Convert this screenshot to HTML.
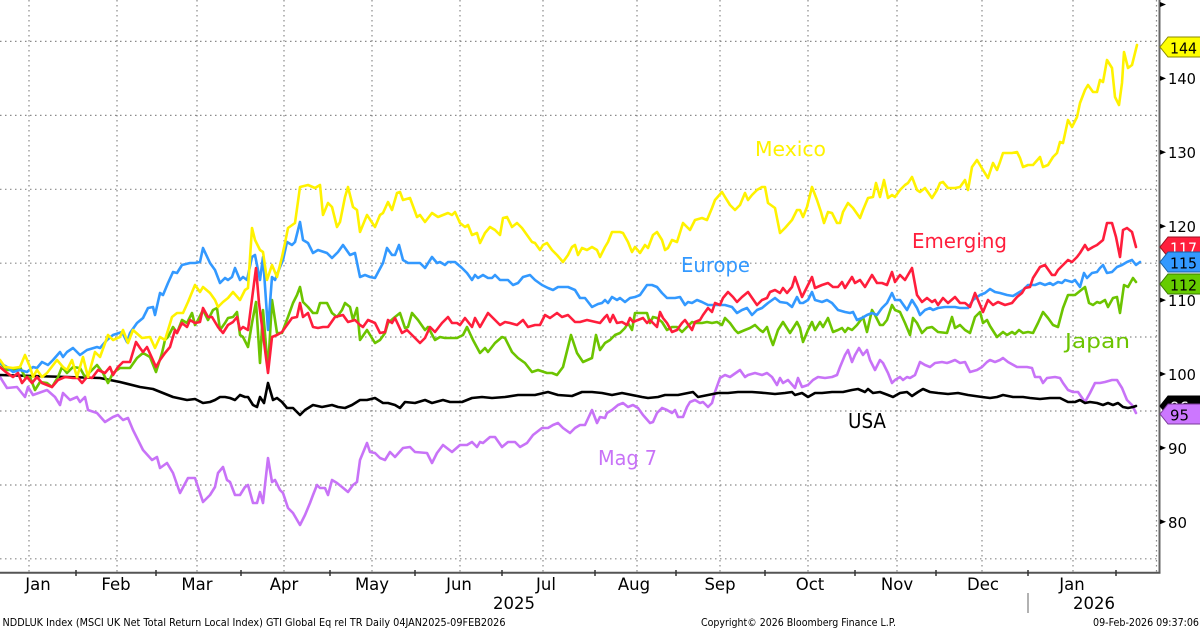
<!DOCTYPE html>
<html>
<head>
<meta charset="utf-8">
<style>
html,body{margin:0;padding:0;background:#fff;}
svg{display:block;}
text{font-family:"DejaVu Sans","Liberation Sans",sans-serif;}
</style>
</head>
<body>
<svg width="1200" height="629" viewBox="0 0 1200 629" xmlns="http://www.w3.org/2000/svg">
<rect x="0" y="0" width="1200" height="629" fill="#ffffff"/>

<!-- horizontal gridlines -->
<g stroke="#8a8a8a" stroke-width="1.2" stroke-dasharray="1.5 3.5" fill="none">
<line x1="0" y1="41.4" x2="1158" y2="41.4"/>
<line x1="0" y1="115.4" x2="1158" y2="115.4"/>
<line x1="0" y1="189.3" x2="1158" y2="189.3"/>
<line x1="0" y1="263.2" x2="1158" y2="263.2"/>
<line x1="0" y1="337" x2="1158" y2="337"/>
<line x1="0" y1="411" x2="1158" y2="411"/>
<line x1="0" y1="485" x2="1158" y2="485"/>
<line x1="0" y1="558.8" x2="1158" y2="558.8"/>
</g>
<!-- vertical gridlines -->
<g stroke="#8a8a8a" stroke-width="1.2" stroke-dasharray="1.5 3.5" fill="none">
<line x1="29" y1="0" x2="29" y2="572"/>
<line x1="117" y1="0" x2="117" y2="572"/>
<line x1="197" y1="0" x2="197" y2="572"/>
<line x1="284" y1="0" x2="284" y2="572"/>
<line x1="372" y1="0" x2="372" y2="572"/>
<line x1="460" y1="0" x2="460" y2="572"/>
<line x1="543" y1="0" x2="543" y2="572"/>
<line x1="637" y1="0" x2="637" y2="572"/>
<line x1="720" y1="0" x2="720" y2="572"/>
<line x1="808" y1="0" x2="808" y2="572"/>
<line x1="897" y1="0" x2="897" y2="572"/>
<line x1="982" y1="0" x2="982" y2="572"/>
<line x1="1073" y1="0" x2="1073" y2="572"/>
<line x1="1156.5" y1="0" x2="1156.5" y2="572"/>
</g>

<!-- axes -->
<line x1="1159.5" y1="0" x2="1159.5" y2="573.5" stroke="#666" stroke-width="2"/>
<line x1="0" y1="572.7" x2="1160.5" y2="572.7" stroke="#555" stroke-width="2"/>
<g stroke="#333" stroke-width="1.5">
<line x1="76" y1="570" x2="76" y2="576"/>
<line x1="156" y1="570" x2="156" y2="576"/>
<line x1="241" y1="570" x2="241" y2="576"/>
<line x1="330" y1="570" x2="330" y2="576"/>
<line x1="415" y1="570" x2="415" y2="576"/>
<line x1="502" y1="570" x2="502" y2="576"/>
<line x1="595" y1="570" x2="595" y2="576"/>
<line x1="676" y1="570" x2="676" y2="576"/>
<line x1="765" y1="570" x2="765" y2="576"/>
<line x1="855" y1="570" x2="855" y2="576"/>
<line x1="936" y1="570" x2="936" y2="576"/>
<line x1="1028" y1="570" x2="1028" y2="576"/>
<line x1="1116" y1="570" x2="1116" y2="576"/>
</g>

<!-- right axis ticks -->
<g fill="#000">
<polygon points="1160,2 1166,4.5 1160,7"/>
<polygon points="1160,75.9 1166,78.4 1160,80.9"/>
<polygon points="1160,149.8 1166,152.3 1160,154.8"/>
<polygon points="1160,223.7 1166,226.2 1160,228.7"/>
<polygon points="1160,297.6 1166,300.1 1160,302.6"/>
<polygon points="1160,371.5 1166,374 1160,376.5"/>
<polygon points="1160,445.4 1166,447.9 1160,450.4"/>
<polygon points="1160,519.3 1166,521.8 1160,524.3"/>
</g>
<g font-size="15" fill="#000">
<text x="1168" y="84" textLength="28" lengthAdjust="spacingAndGlyphs">140</text>
<text x="1168" y="158" textLength="28" lengthAdjust="spacingAndGlyphs">130</text>
<text x="1168" y="232" textLength="28" lengthAdjust="spacingAndGlyphs">120</text>
<text x="1168" y="306" textLength="28" lengthAdjust="spacingAndGlyphs">110</text>
<text x="1168" y="380" textLength="28" lengthAdjust="spacingAndGlyphs">100</text>
<text x="1168" y="454" textLength="19" lengthAdjust="spacingAndGlyphs">90</text>
<text x="1168" y="528" textLength="19" lengthAdjust="spacingAndGlyphs">80</text>
</g>

<!-- series -->
<g fill="none" stroke-width="2.6" stroke-linejoin="round" stroke-linecap="round">
<polyline stroke="#C873F7" points="0,377 7,388 17,387 25,397 28,387 33,395 47,390 55,397 60,405 63,393 70,400 77,397 80,402 85,397 88,410 97,413 105,422 113,417 118,415 123,420 128,418 133,430 143,450 152,460 157,457 160,468 167,463 173,473 180,493 188,478 195,478 203,502 210,495 215,487 218,473 223,467 227,480 230,482 235,495 240,495 245,487 248,485 253,503 257,503 260,492 263,503 268,458 272,482 275,480 280,490 283,493 288,508 293,513 300,525 305,515 310,503 313,495 317,485 320,488 325,488 328,495 332,480 337,483 342,487 348,492 353,485 357,482 360,460 367,443 370,452 375,453 380,458 385,460 390,452 395,457 403,448 410,447 415,452 427,453 432,463 437,453 443,445 452,452 460,445 467,445 472,442 477,447 480,442 483,443 490,437 495,437 502,447 508,442 515,442 520,447 527,443 533,435 542,428 548,428 553,425 558,423 563,428 570,433 575,428 580,425 585,425 592,410 597,423 600,417 605,418 607,413 612,410 618,405 623,403 628,407 633,405 638,408 643,415 650,423 653,422 657,413 662,408 667,410 672,413 675,410 678,417 683,417 687,407 690,402 695,400 700,403 703,402 708,407 712,403 715,392 720,378 725,375 730,377 740,370 745,377 748,375 755,373 762,375 767,373 772,377 777,385 780,378 783,383 788,380 795,388 798,378 802,387 808,385 813,380 818,377 825,378 832,377 837,375 840,367 845,355 848,350 852,362 855,355 859,348 863,355 867,350 870,360 875,370 880,360 883,363 888,373 892,383 895,380 900,377 903,380 907,377 910,378 915,375 920,362 925,365 930,367 935,363 942,362 947,363 950,362 955,360 960,363 965,362 970,372 977,370 982,367 987,362 990,360 995,362 1000,360 1003,358 1008,362 1017,367 1027,367 1032,368 1035,377 1040,377 1043,383 1047,378 1055,377 1060,378 1063,383 1068,390 1073,392 1078,392 1085,402 1090,393 1095,383 1100,383 1105,382 1112,380 1117,380 1122,388 1127,400 1132,405 1136,413"/>
<polyline stroke="#000000" points="0,375 67,377 100,378 120,382 140,387 153,389 163,393 173,397 187,400 195,399 203,403 210,402 215,400 220,397 225,397 230,398 235,400 240,395 245,397 248,397 253,405 257,407 260,397 264,403 268,383 273,400 277,398 282,402 287,408 293,408 300,415 305,410 313,405 322,407 332,405 338,407 345,408 352,405 360,400 367,400 375,398 383,403 388,403 395,405 400,408 405,402 415,403 425,400 432,403 443,400 450,402 462,402 472,398 482,397 492,398 505,397 518,395 535,395 548,392 558,395 572,396 582,392 592,392 602,393 612,395 622,393 632,395 642,397 648,398 658,397 665,395 678,395 688,393 693,392 698,397 708,395 718,393 728,393 738,392 752,392 765,393 775,394 785,393 792,392 795,395 802,393 808,397 815,393 822,393 832,392 843,392 852,390 858,389 865,392 868,389 873,393 880,392 888,395 893,397 900,393 907,392 912,396 918,392 923,389 930,392 938,393 948,394 958,393 968,395 982,397 990,398 997,397 1003,395 1013,397 1023,397 1030,398 1040,399 1050,398 1060,398 1068,402 1075,402 1080,400 1085,403 1090,402 1097,403 1103,405 1108,403 1113,405 1118,403 1123,407 1128,408 1133,407 1136,406"/>
<polyline stroke="#6CC400" points="0,363 7,370 13,370 20,367 25,377 30,377 35,390 40,382 47,383 52,387 58,377 62,367 67,373 73,367 80,368 85,377 92,370 97,365 103,373 108,383 113,373 120,368 130,368 137,358 143,353 150,357 156,372 162,353 165,340 168,337 173,327 177,333 182,320 187,323 192,313 195,325 198,320 203,310 208,320 213,310 217,308 220,330 225,323 228,318 233,317 237,312 240,335 243,337 248,347 252,323 256,302 260,363 263,310 268,370 272,300 277,333 282,333 288,317 293,303 297,295 300,287 303,302 308,307 313,313 317,313 320,303 327,303 332,313 337,317 342,310 345,303 350,307 353,320 357,308 360,340 367,330 375,343 380,340 385,333 388,323 395,317 400,313 405,328 408,327 412,313 418,320 425,330 428,327 435,340 440,337 445,338 457,338 463,335 467,327 473,340 480,353 485,348 488,352 495,343 502,337 505,338 512,352 518,358 525,363 532,372 538,370 547,373 552,373 557,375 563,367 571,335 577,353 583,362 592,358 596,335 600,350 605,343 610,340 615,335 620,333 625,328 628,323 632,330 635,313 642,313 647,313 650,323 653,317 657,318 662,322 667,330 672,327 677,327 682,332 687,327 692,322 695,323 702,323 707,322 712,323 717,322 722,325 725,318 730,323 735,330 738,333 745,330 750,328 755,325 760,330 763,332 767,327 770,337 773,345 778,330 783,322 790,333 797,322 800,328 803,342 808,330 812,322 815,330 820,322 823,327 828,318 833,332 838,330 842,328 845,332 848,328 852,330 857,325 863,317 867,332 872,310 875,315 880,325 883,325 887,320 892,305 895,310 900,312 905,323 910,335 913,318 917,323 922,333 927,328 932,327 938,332 947,333 952,317 955,328 960,325 965,330 970,333 975,317 980,312 983,323 987,320 990,326 997,337 1003,332 1007,335 1012,332 1015,334 1019,330 1023,333 1028,332 1033,333 1038,323 1043,312 1048,318 1053,325 1058,327 1063,308 1068,295 1075,295 1085,287 1089,303 1093,305 1097,302 1100,303 1105,300 1108,307 1113,298 1117,297 1120,313 1124,285 1128,287 1133,278 1136,282"/>
<polyline stroke="#3399FF" points="0,363 7,367 13,372 20,370 27,372 33,367 37,368 42,362 48,365 53,360 60,352 63,357 67,352 73,348 80,355 87,350 97,347 100,348 107,340 113,335 122,332 127,342 130,333 137,323 143,318 148,308 153,307 155,315 160,293 163,295 168,283 173,272 177,273 182,265 190,263 195,263 200,262 203,248 210,263 215,270 220,283 225,278 228,280 232,277 235,268 240,280 243,277 247,280 252,257 255,255 260,280 263,257 268,330 272,277 275,280 280,267 283,260 287,242 292,245 295,242 300,222 303,240 308,243 313,253 318,250 327,253 332,258 338,252 343,245 350,255 355,253 360,277 365,275 370,277 375,278 383,263 387,248 392,255 395,255 399,245 403,260 408,263 420,263 425,268 432,257 437,263 440,262 445,265 448,262 455,262 462,268 467,273 472,280 475,275 478,278 483,275 488,278 492,278 495,275 500,280 508,280 513,285 518,283 523,277 530,275 535,280 542,285 548,288 553,290 558,287 568,287 575,290 580,298 585,298 592,307 598,304 602,303 605,300 608,303 612,297 617,300 620,298 625,302 630,298 635,297 640,295 647,285 652,285 657,287 662,293 667,298 675,298 680,297 685,305 688,302 692,303 697,300 702,302 708,305 713,305 725,305 732,307 737,313 742,310 747,308 752,315 757,310 762,308 768,303 775,298 780,302 787,303 792,307 797,297 800,303 803,303 808,300 812,292 815,300 822,302 827,300 832,303 838,310 845,312 850,313 853,312 857,320 862,318 867,315 872,313 877,315 882,308 887,303 892,293 895,300 900,300 907,310 912,300 917,308 920,315 925,310 930,308 933,310 938,308 945,307 955,307 960,308 968,308 973,300 980,295 985,293 990,289 995,292 1000,293 1007,295 1013,296 1018,293 1023,290 1028,285 1035,285 1040,283 1045,285 1050,283 1053,285 1058,282 1062,283 1065,280 1072,282 1075,280 1080,287 1084,273 1087,278 1092,273 1097,272 1100,268 1103,265 1107,273 1112,272 1117,267 1122,265 1127,262 1132,260 1136,265 1140,262"/>
<polyline stroke="#FF1E3C" points="0,367 7,373 13,377 18,373 22,383 27,377 32,383 37,377 42,383 52,387 58,380 65,377 73,378 78,378 82,383 87,377 92,378 98,370 105,373 110,367 113,375 118,367 123,362 130,362 136,342 140,348 143,352 147,347 152,358 156,367 160,360 165,353 170,347 175,330 177,333 182,323 187,327 190,320 195,323 200,322 203,308 208,317 212,317 218,327 223,333 228,325 233,322 237,317 240,330 243,327 248,330 256,268 259,303 268,373 272,337 277,335 282,332 287,325 292,318 297,317 300,303 303,317 308,313 313,327 318,328 323,327 328,327 335,317 343,315 348,322 355,320 360,325 363,327 368,320 375,323 380,333 385,332 388,320 392,323 395,318 402,333 407,330 412,335 420,343 425,338 430,327 435,332 442,323 448,317 452,323 457,323 460,325 465,318 472,327 475,318 480,327 488,313 495,320 500,325 505,322 510,323 517,325 523,320 528,327 535,325 540,325 545,315 550,318 557,313 562,317 568,315 575,322 580,322 587,320 600,323 605,317 607,315 610,322 613,315 617,323 622,322 627,325 630,318 633,322 638,320 643,318 647,323 650,320 657,327 660,312 663,318 667,323 672,332 677,330 682,323 685,320 692,330 695,322 700,320 703,315 708,308 712,312 715,303 720,305 723,298 728,292 733,297 737,302 742,297 748,292 757,305 762,300 767,298 770,292 775,290 780,293 783,288 787,293 792,287 795,277 802,297 807,287 812,277 815,288 822,285 828,283 833,287 838,287 842,282 845,288 852,277 855,283 860,280 865,287 872,275 877,283 882,283 887,285 892,272 895,282 900,275 905,280 912,268 917,295 922,302 927,298 932,302 935,300 938,305 943,298 948,303 955,297 960,303 965,303 970,307 975,293 983,312 988,300 993,305 998,302 1005,305 1012,303 1017,297 1022,293 1025,288 1030,287 1033,278 1040,267 1045,265 1052,275 1055,275 1058,270 1063,265 1068,260 1072,262 1077,257 1080,253 1085,245 1088,250 1093,247 1097,245 1103,240 1107,223 1112,223 1116,237 1120,257 1123,230 1127,228 1132,232 1136,247"/>
<polyline stroke="#FFF200" points="0,360 5,367 13,368 20,367 25,355 30,367 33,377 37,370 42,377 47,373 57,360 63,367 67,370 72,360 77,377 83,357 88,377 95,352 100,357 108,335 113,340 120,337 123,330 128,343 133,330 142,338 150,337 155,348 160,337 165,340 172,317 177,313 183,313 188,302 195,285 200,292 203,287 210,293 215,300 218,307 223,302 228,298 233,292 240,300 245,290 248,288 252,228 255,240 260,250 263,252 267,280 272,265 277,277 282,257 285,243 288,228 295,223 300,187 308,185 315,188 320,185 323,215 328,203 332,207 337,227 340,222 345,197 348,187 353,207 357,210 360,232 367,215 375,227 380,215 383,213 388,202 392,210 397,193 400,192 403,200 410,198 417,217 420,215 425,222 432,213 438,217 448,213 452,215 455,212 460,223 465,227 468,225 472,235 477,233 480,243 485,233 490,227 495,230 500,235 503,218 507,217 512,227 517,223 522,228 527,235 532,242 535,243 540,250 543,245 547,243 552,250 557,255 563,262 568,255 572,247 575,245 578,255 582,248 587,250 592,247 597,250 600,257 605,247 608,242 612,232 620,232 623,233 628,242 632,252 635,247 640,253 645,245 648,248 653,235 657,232 662,240 665,250 668,248 672,240 677,242 683,223 690,230 695,220 702,218 707,220 712,208 715,200 722,192 725,197 730,205 735,210 740,205 745,193 748,200 752,195 757,190 762,187 765,187 768,203 775,208 780,233 785,228 792,220 797,210 800,210 803,217 807,207 812,187 817,200 821,212 824,223 828,212 832,213 837,223 840,223 843,212 848,203 853,208 860,218 863,210 868,198 873,197 876,183 880,197 884,180 888,198 892,195 895,197 900,190 905,185 908,183 912,177 917,190 920,192 925,188 932,198 937,190 940,183 943,182 948,188 955,188 960,187 965,180 968,190 972,167 977,160 983,170 988,178 993,163 997,170 1000,162 1003,153 1012,153 1017,152 1020,158 1023,167 1028,165 1033,165 1040,157 1043,167 1048,165 1053,157 1057,153 1060,142 1063,143 1068,120 1072,127 1077,117 1080,103 1085,90 1088,85 1093,92 1097,92 1100,80 1103,82 1107,60 1112,68 1115,97 1119,105 1122,83 1124,52 1128,68 1132,65 1137,45"/>
</g>

<!-- series labels -->
<g font-size="20">
<text x="755" y="156" fill="#FFF200" textLength="71" lengthAdjust="spacingAndGlyphs">Mexico</text>
<text x="912" y="248" fill="#FF1E3C" textLength="95" lengthAdjust="spacingAndGlyphs">Emerging</text>
<text x="681" y="272" fill="#3399FF" textLength="69" lengthAdjust="spacingAndGlyphs">Europe</text>
<text x="1065" y="348" fill="#6CC400" textLength="65" lengthAdjust="spacingAndGlyphs">Japan</text>
<text x="848" y="428" fill="#000000" textLength="38" lengthAdjust="spacingAndGlyphs">USA</text>
<text x="598" y="465" fill="#C873F7" textLength="59" lengthAdjust="spacingAndGlyphs">Mag 7</text>
</g>

<!-- value tags -->
<g font-size="15">
<polygon points="1160,47 1168,37 1201,37 1201,57 1168,57" fill="#FFFF00" stroke="#8a8a00" stroke-width="1"/>
<text x="1170" y="53.5" fill="#000" textLength="27" lengthAdjust="spacingAndGlyphs">144</text>
<polygon points="1160,247 1168,237 1201,237 1201,257 1168,257" fill="#FF1E3C" stroke="#9a0f20" stroke-width="1"/>
<text x="1170" y="253.5" fill="#fff" textLength="27" lengthAdjust="spacingAndGlyphs">117</text>
<polygon points="1160,262 1168,252 1201,252 1201,272 1168,272" fill="#3399FF" stroke="#1a5fa0" stroke-width="1"/>
<text x="1170" y="268.5" fill="#000" textLength="27" lengthAdjust="spacingAndGlyphs">115</text>
<polygon points="1160,284 1168,274 1201,274 1201,294 1168,294" fill="#66CC00" stroke="#3a7a00" stroke-width="1"/>
<text x="1170" y="290.5" fill="#000" textLength="27" lengthAdjust="spacingAndGlyphs">112</text>
<polygon points="1160,406 1168,396 1201,396 1201,416 1168,416" fill="#000" stroke="#000" stroke-width="1"/>
<text x="1170" y="412.5" fill="#fff" textLength="19" lengthAdjust="spacingAndGlyphs">96</text>
<polygon points="1160,414 1168,404 1201,404 1201,424 1168,424" fill="#CC77FF" stroke="#7a3a9a" stroke-width="1"/>
<text x="1170" y="420.5" fill="#000" textLength="19" lengthAdjust="spacingAndGlyphs">95</text>
</g>

<!-- month labels -->
<g font-size="16.5" fill="#000" text-anchor="middle">
<text x="38" y="590">Jan</text>
<text x="116" y="590">Feb</text>
<text x="197" y="590">Mar</text>
<text x="284" y="590">Apr</text>
<text x="372" y="590">May</text>
<text x="459" y="590">Jun</text>
<text x="546" y="590">Jul</text>
<text x="634" y="590">Aug</text>
<text x="720" y="590">Sep</text>
<text x="810" y="590">Oct</text>
<text x="897" y="590">Nov</text>
<text x="983" y="590">Dec</text>
<text x="1072" y="590">Jan</text>
<text x="514" y="609">2025</text>
<text x="1094" y="609">2026</text>
</g>
<line x1="1028" y1="593" x2="1028" y2="613" stroke="#666" stroke-width="1"/>

<!-- footer -->
<g font-size="10.5" fill="#000">
<text x="2.5" y="626" textLength="503" lengthAdjust="spacingAndGlyphs">NDDLUK Index (MSCI UK Net Total Return Local Index) GTI Global Eq rel TR Daily 04JAN2025-09FEB2026</text>
<text x="701" y="626" textLength="195" lengthAdjust="spacingAndGlyphs">Copyright© 2026 Bloomberg Finance L.P.</text>
<text x="1093" y="626" textLength="106" lengthAdjust="spacingAndGlyphs">09-Feb-2026 09:37:06</text>
</g>
</svg>
</body>
</html>
